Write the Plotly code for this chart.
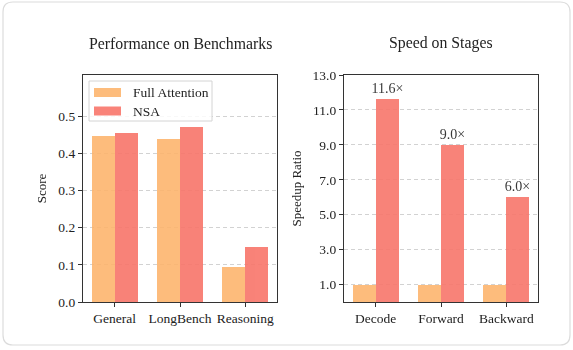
import plotly.graph_objects as go

bench_cats = ["General", "LongBench", "Reasoning"]
bench_full = [0.446, 0.438, 0.093]
bench_nsa = [0.456, 0.470, 0.149]

stage_cats = ["Decode", "Forward", "Backward"]
stage_full = [1.0, 1.0, 1.0]
stage_nsa = [11.6, 9.0, 6.0]

score_ticks = [0.0, 0.1, 0.2, 0.3, 0.4, 0.5]
speed_ticks = [1.0, 3.0, 5.0, 7.0, 9.0, 11.0, 13.0]
series_names = ["Full Attention", "NSA"]

C_FULL = "#FDB56E"
C_NSA = "#F8756A"
FONT = "Liberation Serif"
W, H = 573, 350

fig = go.Figure()
fig.add_trace(go.Bar(x=[0, 1, 2], y=bench_full, name=series_names[0], marker_color=C_FULL,
                     width=0.35, offset=-0.35, opacity=0.9, marker_line_width=0,
                     showlegend=False, xaxis="x", yaxis="y"))
fig.add_trace(go.Bar(x=[0, 1, 2], y=bench_nsa, name=series_names[1], marker_color=C_NSA,
                     width=0.35, offset=0.0, opacity=0.9, marker_line_width=0,
                     showlegend=False, xaxis="x", yaxis="y"))
fig.add_trace(go.Bar(x=[0, 1, 2], y=stage_full, name=series_names[0], marker_color=C_FULL,
                     width=0.35, offset=-0.35, opacity=0.9, marker_line_width=0,
                     showlegend=False, xaxis="x2", yaxis="y2"))
fig.add_trace(go.Bar(x=[0, 1, 2], y=stage_nsa, name=series_names[1], marker_color=C_NSA,
                     width=0.35, offset=0.0, opacity=0.9, marker_line_width=0,
                     text=[f"{v:.1f}×" for v in stage_nsa], textposition="outside",
                     constraintext="none",
                     textfont=dict(family=FONT, size=14, color="#222"), cliponaxis=False,
                     showlegend=False, xaxis="x2", yaxis="y2"))

x1 = [83 / W, 277 / W]
x2 = [344 / W, 538 / W]
yd = [(H - 302) / H, (H - 75) / H]

axis_common = dict(showline=True, linecolor="#333", linewidth=1.2, mirror=True,
                   ticks="outside", ticklen=4, tickcolor="#333", automargin=False,
                   tickfont=dict(family=FONT, size=13.5, color="#222"))


def px(x):
    return x / W


def py(y):
    return 1 - y / H


# manual legend (box, patches, labels) in paper coordinates
legend_shapes = [
    dict(type="rect", xref="paper", yref="paper", x0=px(89), x1=px(212), y0=py(81), y1=py(121),
         line=dict(color="#d4d4d4", width=1), fillcolor="rgba(255,255,255,0.85)", layer="above"),
    dict(type="rect", xref="paper", yref="paper", x0=px(94), x1=px(121), y0=py(88), y1=py(97),
         line=dict(width=0), fillcolor=C_FULL, opacity=0.9, layer="above"),
    dict(type="rect", xref="paper", yref="paper", x0=px(94), x1=px(121), y0=py(106.5), y1=py(115.5),
         line=dict(width=0), fillcolor=C_NSA, opacity=0.9, layer="above"),
]
legend_anns = [
    dict(text=series_names[0], x=px(131), y=py(92.5), xref="paper", yref="paper",
         xanchor="left", yanchor="middle", showarrow=False,
         font=dict(family=FONT, size=13.5, color="#222")),
    dict(text=series_names[1], x=px(131), y=py(111), xref="paper", yref="paper",
         xanchor="left", yanchor="middle", showarrow=False,
         font=dict(family=FONT, size=13.5, color="#222")),
]

card = dict(type="path", xref="paper", yref="paper", layer="below",
            path=(f"M {px(13)} {py(2)} L {px(560)} {py(2)} Q {px(570)} {py(2)} {px(570)} {py(12)} "
                  f"L {px(570)} {py(335)} Q {px(570)} {py(345)} {px(560)} {py(345)} "
                  f"L {px(13)} {py(345)} Q {px(3)} {py(345)} {px(3)} {py(335)} "
                  f"L {px(3)} {py(12)} Q {px(3)} {py(2)} {px(13)} {py(2)} Z"),
            line=dict(color="#dcdcdc", width=1.2), fillcolor="rgba(0,0,0,0)")

grid_style = dict(showgrid=True, gridcolor="#d2d2d2", griddash="4px,3px", gridwidth=1, zeroline=False)

fig.update_layout(
    width=W, height=H, margin=dict(l=0, r=0, t=0, b=0, autoexpand=False),
    paper_bgcolor="white", plot_bgcolor="white",
    barmode="overlay", bargap=0, showlegend=False,
    font=dict(family=FONT, color="#222"),
    xaxis=dict(domain=x1, range=[-0.485, 2.485], tickvals=[0, 1, 2], ticktext=bench_cats,
               showgrid=False, zeroline=False, **axis_common),
    yaxis=dict(domain=yd, range=[0, 0.611], tickvals=score_ticks,
               ticktext=[f"{v:.1f}" for v in score_ticks],
               title=dict(text="Score", font=dict(family=FONT, size=13), standoff=8),
               **grid_style, **axis_common),
    xaxis2=dict(domain=x2, range=[-0.485, 2.485], tickvals=[0, 1, 2], ticktext=stage_cats,
                showgrid=False, zeroline=False, anchor="y2", **axis_common),
    yaxis2=dict(domain=yd, range=[0, 13.0], tickvals=speed_ticks,
                ticktext=[f"{v:.1f}" for v in speed_ticks], anchor="x2",
                title=dict(text="Speedup Ratio", font=dict(family=FONT, size=13), standoff=8),
                **grid_style, **axis_common),
    annotations=[
        dict(text="Performance on Benchmarks", x=px(180), y=py(43), xref="paper", yref="paper",
             xanchor="center", yanchor="middle",
             showarrow=False, font=dict(family=FONT, size=15.8, color="#222")),
        dict(text="Speed on Stages", x=px(441), y=py(43), xref="paper", yref="paper",
             xanchor="center", yanchor="middle",
             showarrow=False, font=dict(family=FONT, size=15.8, color="#222")),
    ] + legend_anns,
    shapes=[card] + legend_shapes,
)

fig.write_html("out.html")
